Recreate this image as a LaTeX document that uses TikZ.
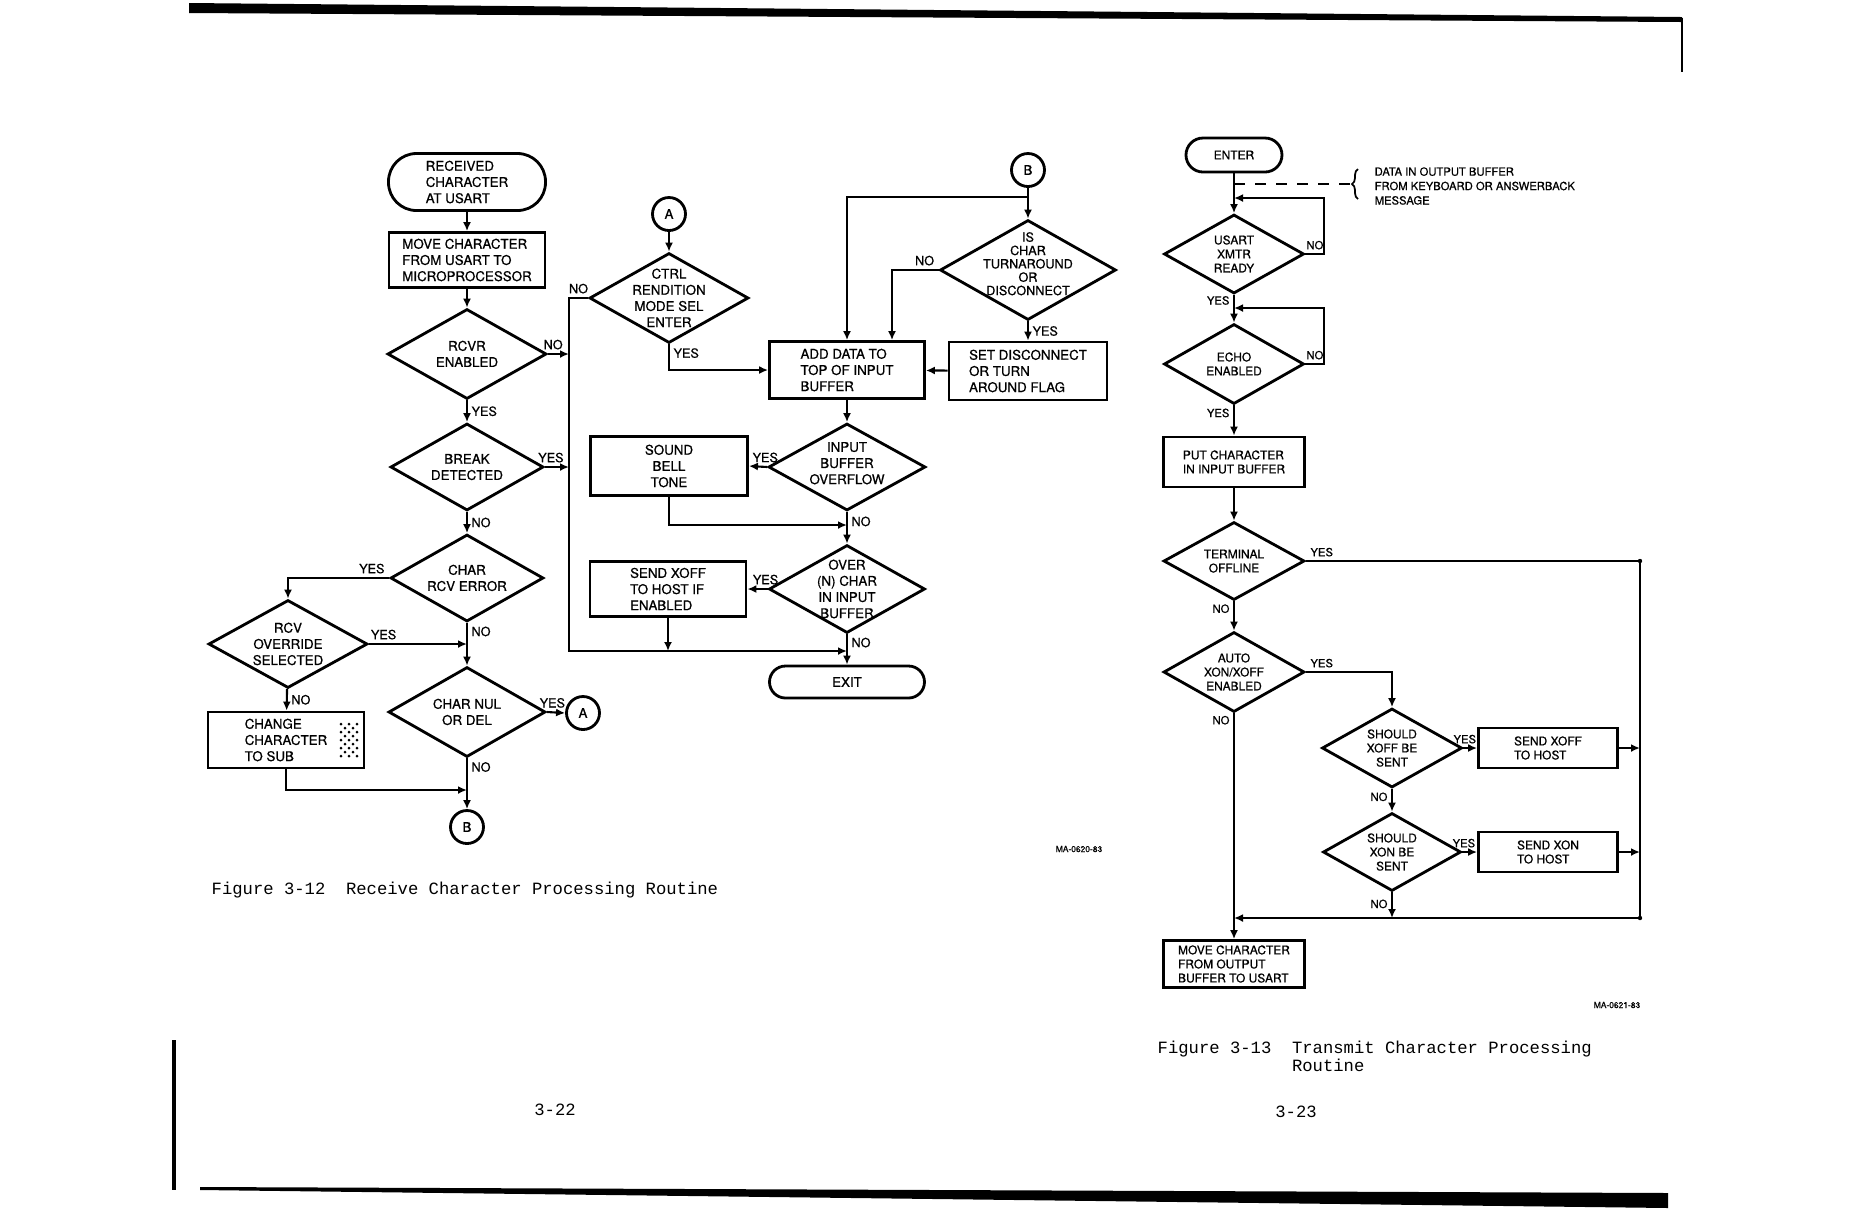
\documentclass[tikz,border=0pt]{standalone}
\usepackage{fontspec}
\usepackage{tikz}
\usetikzlibrary{arrows.meta,shapes.geometric,decorations.pathreplacing,calc}
\newfontfamily\heros[FakeBold=0.7]{TeX Gyre Heros}
\newfontfamily\mono{Liberation Mono}
\newcommand{\bfont}{\heros\fontsize{3.8}{4.6}\selectfont}
\newcommand{\tfont}{\heros\fontsize{3.6}{3.7}\selectfont}
\newcommand{\rfont}{\heros\fontsize{3.4}{4.0}\selectfont}
\newcommand{\lfont}{\heros\fontsize{3.6}{4}\selectfont}
\newcommand{\sfont}{\heros\fontsize{3.2}{4.1}\selectfont}
\newcommand{\cfont}{\mono\fontsize{4.9}{5.2}\selectfont}
\newcommand{\dt}[2][-1.7pt]{\makebox[0pt]{\smash{\raisebox{#1}{\begin{tabular}{@{}c@{}}#2\end{tabular}}}}}

\tikzset{
  box/.style={draw, line width=0.8pt, inner sep=0pt, align=#1},
  box/.default=center,
  term/.style={draw, line width=0.8pt, inner sep=0pt, rounded corners=#1},
  dec/.style={draw, diamond, line width=0.8pt, inner sep=0pt},
  con/.style={draw, circle, line width=0.8pt, inner sep=0pt, minimum size=3.3mm},
  sz/.style 2 args={minimum width=#1mm, minimum height=#2mm},
  flow/.style={line width=0.6pt, -{Latex[length=0.9mm,width=0.8mm]}},
  yn/.style={font=\lfont, inner sep=1pt},
  yr/.style={font=\sfont, inner sep=1pt},
}

\begin{document}
\begin{tikzpicture}[x=0.1mm,y=-0.1mm]
  \useasboundingbox (0,0) rectangle (1853,1213);

  % page edges of the scan
  \fill (189,3) -- (1682,17) -- (1682,22) -- (189,13) -- cycle;
  \draw[line width=0.8pt] (1682,18) -- (1682,72);
  \fill (200,1187) -- (1668,1193) -- (1668,1208) -- (200,1190) -- cycle;
  \draw[line width=1pt] (174,1040) -- (174,1190);

  % ---------- Figure 3-12 ----------
  \begin{scope}[nodes={font=\bfont}]
    \node[term=2.8mm, sz={15.7}{5.7}, align=left] (rcvd) at (467,182) {RECEIVED\\CHARACTER\\AT USART};
    \node[box=left, sz={15.6}{5.5}] (movc) at (467,260) {MOVE CHARACTER\\FROM USART TO\\MICROPROCESSOR};
    \node[dec, sz={15.9}{9.0}] (rcvr) at (467,354) {\dt{RCVR\\ENABLED}};
    \node[dec, sz={15.3}{8.7}] (brk) at (467,467) {\dt{BREAK\\DETECTED}};
    \node[dec, sz={15.3}{8.7}] (rcverr) at (467,578) {\dt{CHAR\\RCV ERROR}};
    \node[dec, sz={15.9}{8.8}] (ovrd) at (288,644) {\dt{RCV\\OVERRIDE\\SELECTED}};
    \node[box=left, sz={15.6}{5.6}] (chsub) at (286,740) {CHANGE\\CHARACTER\\TO SUB};
    \node[dec, sz={15.7}{9.0}] (nul) at (467,712) {\dt{CHAR NUL\\OR DEL}};
    \node[con] (ca1) at (583,713) {A};
    \node[con] (cb1) at (467,827) {B};

    \node[con] (ca2) at (669,214) {A};
    \node[dec, sz={15.9}{9.0}] (ctrl) at (669,298) {\dt{CTRL\\RENDITION\\MODE SEL\\ENTER}};
    \node[box=left, sz={15.5}{5.7}] (add) at (847,370) {ADD DATA TO\\TOP OF INPUT\\BUFFER};
    \node[con] (cb2) at (1028,170) {B};
    \node[dec, sz={17.6}{10.0}, font=\tfont] (turn) at (1028,270) {\dt[0pt]{IS\\CHAR\\TURNAROUND\\OR\\DISCONNECT}};
    \node[box=left, sz={15.8}{5.8}] (setf) at (1028,371) {SET DISCONNECT\\OR TURN\\AROUND FLAG};
    \node[dec, sz={15.7}{8.7}] (ovfl) at (847,467) {\dt[-0.6pt]{INPUT\\BUFFER\\OVERFLOW}};
    \node[box, sz={15.7}{5.9}] (bell) at (669,466) {SOUND\\BELL\\TONE};
    \node[dec, sz={15.6}{8.8}] (full) at (847,589) {\dt{OVER\\(N) CHAR\\IN INPUT\\BUFFER}};
    \node[box=left, sz={15.6}{5.5}] (xoff) at (668,589) {SEND XOFF\\TO HOST IF\\ENABLED};
    \node[term=1.6mm, sz={15.5}{3.2}] (exit) at (847,682) {EXIT};
  \end{scope}

  % dot pattern of the SUB character
  \foreach \i in {0,...,4}
    \foreach \j in {0,...,8} {
      \ifodd\numexpr\i+\j\relax\else
        \fill (341+4*\i,724+4*\j) circle (0.15mm);
      \fi
    }

  \coordinate (bus) at (569,651);
  \coordinate (jb) at (467,790);
  \coordinate (jB) at (1028,197);
  \coordinate (jn) at (847,525);

  \draw[flow] (rcvd) -- (movc);
  \draw[flow] (movc) -- (rcvr);
  \draw[flow] (rcvr) -- node[yn, right]{YES} (brk);
  \draw[flow] (brk) -- node[yn, right]{NO} (rcverr);
  \draw[flow] (rcvr.east) -- node[yn, pos=0.25, above]{NO} (rcvr.east -| bus);
  \draw[flow] (brk.east) -- node[yn, pos=0.25, above]{YES} (brk.east -| bus);
  \draw[flow] (rcverr.west) -| node[yn, pos=0, above left]{YES} (ovrd.north);
  \draw[flow] (rcverr) -- node[yn, pos=0.2, right]{NO} (nul);
  \draw[flow] (ovrd.east) -- node[yn, pos=0.15, above]{YES} (ovrd.east -| nul.north);
  \draw[flow] (ovrd) -- node[yn, right]{NO} (chsub);
  \draw[flow] (nul.east) -- node[yn, pos=0.3, above]{YES} (ca1.west);
  \draw[flow] (nul) -- node[yn, pos=0.17, right]{NO} (cb1);
  \draw[flow] (chsub.south) |- (jb);

  \draw[flow] (ca2) -- (ctrl);
  \draw[flow] (ctrl.west) -- node[yn, above]{NO} (ctrl.west -| bus) -- (bus) -- (bus -| exit);
  \draw[flow] (ctrl.south) |- node[yn, pos=0.17, right]{YES} (add.west);
  \draw[flow] (cb2) -- (turn);
  \draw[flow] (jB) -| (add.north);
  \draw[flow] (turn.west) -| node[yn, pos=0.15, above]{NO} ([xshift=4.5mm]add.north);
  \draw[flow] (turn) -- node[yn, right]{YES} (setf);
  \draw[flow] (setf) -- (add);
  \draw[flow] (add) -- (ovfl);
  \draw[flow] (ovfl.west) -- node[yn, pos=0.1, above]{YES} (bell.east);
  \draw[flow] (bell.south) |- (jn);
  \draw[flow] (ovfl) -- node[yn, pos=0.3, right]{NO} (full);
  \draw[flow] (full.west) -- node[yn, pos=0.1, above]{YES} (xoff.east);
  \draw[flow] (xoff.south) -- (xoff.south |- bus);
  \draw[flow] (full) -- node[yn, pos=0.27, right]{NO} (exit);

  % ---------- Figure 3-13 ----------
  \begin{scope}[nodes={font=\rfont}]
    \node[term=1.7mm, sz={9.6}{3.4}] (enter) at (1234,155) {ENTER};
    \node[dec, sz={14.0}{7.9}] (xmtr) at (1234,254) {\dt{USART\\XMTR\\READY}};
    \node[dec, sz={14.0}{8.0}] (echo) at (1234,364) {\dt{ECHO\\ENABLED}};
    \node[box=left, sz={14.1}{5.0}] (putc) at (1234,462) {PUT CHARACTER\\IN INPUT BUFFER};
    \node[dec, sz={14.1}{7.8}] (offl) at (1234,561) {\dt{TERMINAL\\OFFLINE}};
    \node[dec, sz={14.1}{8.0}] (auto) at (1234,672) {\dt{AUTO\\XON/XOFF\\ENABLED}};
    \node[dec, sz={14.0}{7.9}] (qxoff) at (1392,748) {\dt{SHOULD\\XOFF BE\\SENT}};
    \node[box=left, sz={13.9}{4.0}] (sxoff) at (1548,748) {SEND XOFF\\TO HOST};
    \node[dec, sz={13.8}{7.8}] (qxon) at (1392,852) {\dt{SHOULD\\XON BE\\SENT}};
    \node[box=left, sz={13.9}{4.0}] (sxon) at (1548,852) {SEND XON\\TO HOST};
    \node[box=left, sz={14.1}{4.7}] (movo) at (1234,964) {MOVE CHARACTER\\FROM OUTPUT\\BUFFER TO USART};
    \node[font=\sfont, anchor=west, align=left, inner sep=0pt] (note) at (1374,186)
      {DATA IN OUTPUT BUFFER\\FROM KEYBOARD OR ANSWERBACK\\MESSAGE};
  \end{scope}

  \coordinate (jx) at (1234,198);
  \coordinate (je) at (1234,308);
  \coordinate (dj) at (1234,184);
  \coordinate (de) at (1350,184);
  \coordinate (rt) at (1640,561);
  \coordinate (rb) at (1640,918);

  \draw[dashed, line width=0.6pt] (dj) -- (de);
  \draw[decorate, decoration={brace, amplitude=0.6mm}, line width=0.5pt] (1358,199) -- (1358,169);

  \draw[flow] (enter) -- (xmtr);
  \draw[flow] (xmtr.east) -- node[yr, above]{NO} ++(19,0) |- (jx);
  \draw[flow] (xmtr) -- node[yr, pos=0.2, left]{YES} (echo);
  \draw[flow] (echo.east) -- node[yr, above]{NO} ++(19,0) |- (je);
  \draw[flow] (echo) -- node[yr, pos=0.25, left]{YES} (putc);
  \draw[flow] (putc) -- (offl);
  \draw[flow] (offl) -- node[yr, pos=0.25, left]{NO} (auto);
  \draw[flow] (offl.east) -- node[yr, pos=0, above right]{YES} (rt) -- (rb) -- (rb -| auto.south);
  \fill (rt) circle (0.22mm);
  \fill (rb) circle (0.22mm);
  \draw[flow] (auto) -- node[yr, pos=0.03, left]{NO} (movo);
  \draw[flow] (auto.east) -| node[yr, pos=0, above right]{YES} (qxoff.north);
  \draw[flow] (qxoff) -- node[yr, pos=0.1, above]{YES} (sxoff);
  \draw[flow] (sxoff.east) -- (sxoff.east -| rb);
  \draw[flow] (qxoff) -- node[yr, pos=0.35, left]{NO} (qxon);
  \draw[flow] (qxon) -- node[yr, pos=0.1, above]{YES} (sxon);
  \draw[flow] (sxon.east) -- (sxon.east -| rb);
  \draw[flow] (qxon.south) -- node[yr, pos=0.45, left]{NO} (qxon.south |- rb);

  % captions and page numbers
  \node[font=\cfont, anchor=west, inner sep=0pt] (cap1) at (211,890)
    {Figure 3-12\ \ Receive Character Processing Routine};
  \node[font=\cfont, anchor=north west, align=left, inner sep=0pt] (cap2) at (1157,1040)
    {Figure 3-13\ \ Transmit Character Processing\\\hspace*{7.8em}Routine};
  \node[font=\cfont] (pg1) at (555,1110) {3-22};
  \node[font=\cfont] (pg2) at (1296,1112) {3-23};
  \node[font=\heros\fontsize{2.4}{2.6}\selectfont] (id1) at (1079,849) {MA-0620-83};
  \node[font=\heros\fontsize{2.4}{2.6}\selectfont] (id2) at (1617,1005) {MA-0621-83};
\end{tikzpicture}
\end{document}
